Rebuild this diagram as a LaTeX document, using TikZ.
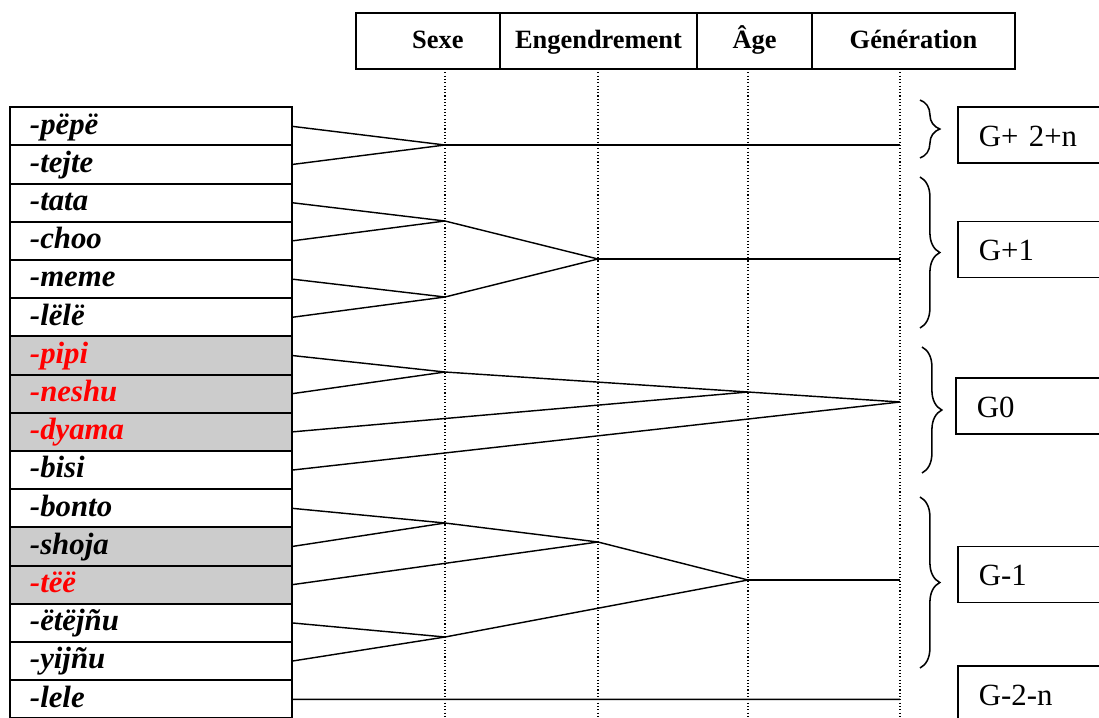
\documentclass[tikz,border=0pt]{standalone}
\usepackage{fontspec}
\setmainfont{Liberation Serif}
\usetikzlibrary{positioning,decorations.pathreplacing}
\definecolor{rowgray}{RGB}{204,204,204}
\newcommand{\pxl}{0.4545pt}

\begin{document}
\begin{tikzpicture}[x=\pxl, y=-\pxl,
	cell/.style={draw=black, line width=0.9pt, outer sep=0pt, inner sep=0pt,
		minimum height=56*\pxl, text height=9pt, text depth=2pt,
		font=\bfseries\fontsize{12}{14}\selectfont},
	word/.style={draw=black, line width=0.9pt, outer sep=0pt, inner ysep=0pt,
		inner xsep=20*\pxl, text width=242*\pxl, align=left,
		minimum height=38.2*\pxl, text height=10pt, text depth=3pt,
		font=\bfseries\itshape\fontsize{14}{16}\selectfont},
	shaded/.style={word, fill=rowgray},
	redword/.style={shaded, text=red},
	gen/.style={draw=black, line width=0.9pt, anchor=west, inner ysep=0pt,
		inner xsep=21*\pxl, text width=150*\pxl, align=left,
		minimum height=56*\pxl, text height=10pt, text depth=0pt,
		font=\fontsize{14}{16}\selectfont},
	link/.style={line width=0.65pt},
	guide/.style={densely dotted, line width=0.5pt},
	genbrace/.style={decorate, decoration={brace, amplitude=9pt}, line width=0.7pt}]
	\useasboundingbox (0,0) rectangle (1099,717);
	\clip (0,0) rectangle (1099,717);

	% header
	\node[cell, minimum width=144*\pxl] (sexe) at (428,41) {\hspace*{9pt}Sexe};
	\node[cell, minimum width=197*\pxl, right=0pt of sexe] (engend) {Engendrement};
	\node[cell, minimum width=115*\pxl, right=0pt of engend] (age) {Âge};
	\node[cell, minimum width=203*\pxl, right=0pt of age] (gener) {Génération};

	\draw[guide] (445,69) -- (445,717);
	\draw[guide] (598,69) -- (598,717);
	\draw[guide] (748,69) -- (748,717);
	\draw[guide] (900,69) -- (900,717);

	% terms
	\node[word] (pepe) at (151,126.3) {-pëpë};
	\node[word, below=0pt of pepe] (tejte) {-tejte};
	\node[word, below=0pt of tejte] (tata) {-tata};
	\node[word, below=0pt of tata] (choo) {-choo};
	\node[word, below=0pt of choo] (meme) {-meme};
	\node[word, below=0pt of meme] (lelee) {-lëlë};
	\node[redword, below=0pt of lelee] (pipi) {-pipi};
	\node[redword, below=0pt of pipi] (neshu) {-neshu};
	\node[redword, below=0pt of neshu] (dyama) {-dyama};
	\node[word, below=0pt of dyama] (bisi) {-bisi};
	\node[word, below=0pt of bisi] (bonto) {-bonto};
	\node[shaded, below=0pt of bonto] (shoja) {-shoja};
	\node[redword, below=0pt of shoja] (tee) {-tëë};
	\node[word, below=0pt of tee] (etejnu) {-ëtëjñu};
	\node[word, below=0pt of etejnu] (yijnu) {-yijñu};
	\node[word, below=0pt of yijnu] (lele) {-lele};

	% meeting points
	\coordinate (sA) at (445,145);
	\coordinate (sB) at (445,221);
	\coordinate (sC) at (445,297);
	\coordinate (sD) at (445,372);
	\coordinate (sE) at (445,523);
	\coordinate (sF) at (445,637);
	\coordinate (eA) at (598,259);
	\coordinate (eB) at (598,542);
	\coordinate (aA) at (748,392);
	\coordinate (aB) at (748,580);
	\coordinate (gA) at (900,145);
	\coordinate (gB) at (900,259);
	\coordinate (gC) at (900,402);
	\coordinate (gD) at (900,580);
	\coordinate (gE) at (900,699.3);

	\draw[link] (pepe.east) -- (sA);
	\draw[link] (tejte.east) -- (sA);
	\draw[link] (sA) -- (gA);
	\draw[link] (tata.east) -- (sB);
	\draw[link] (choo.east) -- (sB);
	\draw[link] (meme.east) -- (sC);
	\draw[link] (lelee.east) -- (sC);
	\draw[link] (sB) -- (eA);
	\draw[link] (sC) -- (eA);
	\draw[link] (eA) -- (gB);
	\draw[link] (pipi.east) -- (sD);
	\draw[link] (neshu.east) -- (sD);
	\draw[link] (sD) -- (aA);
	\draw[link] (dyama.east) -- (aA);
	\draw[link] (aA) -- (gC);
	\draw[link] (bisi.east) -- (gC);
	\draw[link] (bonto.east) -- (sE);
	\draw[link] (shoja.east) -- (sE);
	\draw[link] (sE) -- (eB);
	\draw[link] (tee.east) -- (eB);
	\draw[link] (eB) -- (aB);
	\draw[link] (etejnu.east) -- (sF);
	\draw[link] (yijnu.east) -- (sF);
	\draw[link] (sF) -- (aB);
	\draw[link] (aB) -- (gD);
	\draw[link] (lele.east) -- (gE);

	% generations
	\draw[genbrace] (920,100) -- (920,158);
	\draw[genbrace] (920,177) -- (920,328);
	\draw[genbrace] (922,347) -- (922,473);
	\draw[genbrace] (920,497) -- (920,668);
	\node[gen] (gtwo) at (957,135) {G+ 2+n};
	\node[gen] (gone) at (957,249.5) {G+1};
	\node[gen] (gzero) at (955,406) {G0};
	\node[gen] (gmone) at (957,574.5) {G-1};
	\node[gen] (gmtwo) at (957,694) {G-2-n};
\end{tikzpicture}
\end{document}
